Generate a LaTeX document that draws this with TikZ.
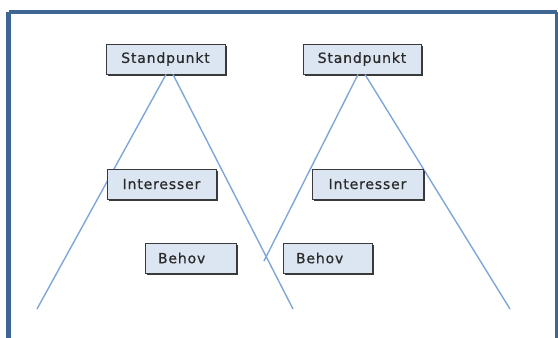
\documentclass[tikz,border=0pt]{standalone}
\usepackage{fontspec}
\usetikzlibrary{shadows}
\newfontfamily\boxfont[LetterSpace=6,FakeBold=0.6]{DejaVu Sans}
\definecolor{framecol}{HTML}{3F6593}
\definecolor{linecol}{HTML}{7FA6D8}
\definecolor{boxfill}{HTML}{DCE6F2}
\definecolor{boxedge}{HTML}{3A3A3A}
\definecolor{boxtext}{HTML}{2A2A2A}
\begin{document}
\begin{tikzpicture}[x=1pt,y=-1pt,
  framestyle/.style={draw=framecol,line width=4.5pt},
  ray/.style={draw=linecol,line width=1.4pt},
  boxstyle/.style={draw=boxedge,fill=boxfill,line width=0.9pt,
    minimum height=30pt,inner sep=0pt,
    font=\boxfont\fontsize{14}{16}\selectfont,text=boxtext,
    drop shadow={shadow xshift=1.8pt,shadow yshift=-1.8pt,opacity=1,fill=boxedge}},
  leftbox/.style={boxstyle,align=left,inner xsep=13pt}]
\useasboundingbox[fill=white] (0,0) rectangle (558,338);

% outer frame, its lower edge lies outside the page
\draw[framestyle] (8.5,12) -- (557,12) (8.5,12) -- (8.5,345) (557,12) -- (557,345);

% free ends of the rays
\coordinate (e1) at (37,309);
\coordinate (e2) at (293,309);
\coordinate (e3) at (264,261);
\coordinate (e4) at (510,309);

% the two viewpoints
\node[boxstyle,minimum width=119pt] (sp1) at (165.5,59) {Standpunkt};
\node[boxstyle,minimum width=118pt] (sp2) at (362,59) {Standpunkt};

% rays, drawn before the lower boxes so that these cover them
\draw[ray] ([xshift=0.5pt]sp1.south) -- (e1);
\draw[ray] ([xshift=7.5pt]sp1.south) -- (e2);
\draw[ray] ([xshift=-4pt]sp2.south) -- (e3);
\draw[ray] ([xshift=3pt]sp2.south) -- (e4);

\node[boxstyle,minimum width=109pt] (in1) at (161.5,184) {Interesser};
\node[boxstyle,minimum width=111pt] (in2) at (367.5,184) {Interesser};
\node[leftbox,text width=65pt] (be1) at (190.5,258) {Behov};
\node[leftbox,text width=63pt] (be2) at (327.5,258) {Behov};
\end{tikzpicture}
\end{document}
